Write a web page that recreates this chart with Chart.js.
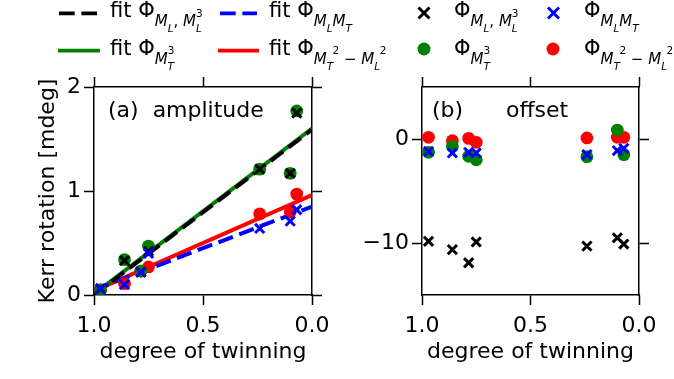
<!DOCTYPE html>
<html>
<head>
<meta charset="utf-8">
<script src="https://cdn.jsdelivr.net/npm/chart.js@4"></script>
<style>
	body { margin: 0; background: #fff; }
	#wrap { position: relative; width: 674px; height: 379px; overflow: hidden; }
	#wrap canvas { position: absolute; top: 0; }
	#legend { position: absolute; left: 0; top: 0; pointer-events: none; }
	#legend text { font-family: 'DejaVu Sans'; font-size: 21px; fill: #000; white-space: pre; }
	#legend .s { font-size: 15px; }
	#legend .ss { font-size: 10.5px; }
	#legend .i { font-style: italic; }
</style>
</head>
<body>
<div id="wrap">
	<canvas id="ampChart" width="340" height="379" style="left:0"></canvas>
	<canvas id="offChart" width="334" height="379" style="left:340px"></canvas>
	<svg id="legend" width="674" height="379">
		<!-- row 1 -->
		<line x1="59" x2="97" y1="13.3" y2="13.3" stroke="#000" stroke-width="3.7" stroke-dasharray="15.7 6.7"/>
		<text x="110" y="17.3">fit Φ<tspan class="s i" dy="8.7">M</tspan><tspan class="ss i" dy="6">L</tspan><tspan class="s" dy="-6">, </tspan><tspan class="s i">M</tspan><tspan class="ss" dy="-9.3">3</tspan><tspan class="ss i" dx="-6.7" dy="15.3">L</tspan></text>
		<line x1="220" x2="257" y1="13.3" y2="13.3" stroke="#00f" stroke-width="3.7" stroke-dasharray="15.7 6.7"/>
		<text x="269" y="17.3">fit Φ<tspan class="s i" dy="8.7">M</tspan><tspan class="ss i" dy="6">L</tspan><tspan class="s i" dy="-6">M</tspan><tspan class="ss i" dy="6">T</tspan></text>
		<path d="M418.5,7.5 L429.5,18.5 M429.5,7.5 L418.5,18.5" stroke="#000" stroke-width="3"/>
		<text x="454" y="17.3">Φ<tspan class="s i" dy="8.7">M</tspan><tspan class="ss i" dy="6">L</tspan><tspan class="s" dy="-6">, </tspan><tspan class="s i">M</tspan><tspan class="ss" dy="-9.3">3</tspan><tspan class="ss i" dx="-6.7" dy="15.3">L</tspan></text>
		<path d="M548,7.5 L559,18.5 M559,7.5 L548,18.5" stroke="#00f" stroke-width="3"/>
		<text x="584" y="17.3">Φ<tspan class="s i" dy="8.7">M</tspan><tspan class="ss i" dy="6">L</tspan><tspan class="s i" dy="-6">M</tspan><tspan class="ss i" dy="6">T</tspan></text>
		<!-- row 2 -->
		<line x1="58" x2="100" y1="50.7" y2="50.7" stroke="#008000" stroke-width="3.7"/>
		<text x="110" y="55">fit Φ<tspan class="s i" dy="8.7">M</tspan><tspan class="ss" dy="-9.3">3</tspan><tspan class="ss i" dx="-6.7" dy="15.3">T</tspan></text>
		<line x1="218" x2="259" y1="50.7" y2="50.7" stroke="#f00" stroke-width="3.7"/>
		<text x="269" y="55">fit Φ<tspan class="s i" dy="8.7">M</tspan><tspan class="ss i" dy="6">T</tspan><tspan class="ss" dx="-0.5" dy="-16">2</tspan><tspan class="s" dy="10"> − </tspan><tspan class="s i">M</tspan><tspan class="ss i" dy="6">L</tspan><tspan class="ss" dx="-0.5" dy="-16">2</tspan></text>
		<circle cx="424" cy="49" r="6.5" fill="#008000"/>
		<text x="454" y="55">Φ<tspan class="s i" dy="8.7">M</tspan><tspan class="ss" dy="-9.3">3</tspan><tspan class="ss i" dx="-6.7" dy="15.3">T</tspan></text>
		<circle cx="553" cy="49" r="6.5" fill="#f00"/>
		<text x="584" y="55">Φ<tspan class="s i" dy="8.7">M</tspan><tspan class="ss i" dy="6">T</tspan><tspan class="ss" dx="-0.5" dy="-16">2</tspan><tspan class="s" dy="10"> − </tspan><tspan class="s i">M</tspan><tspan class="ss i" dy="6">L</tspan><tspan class="ss" dx="-0.5" dy="-16">2</tspan></text>
	</svg>
</div>
<script>
// degree of twinning of the seven samples
const twinning = [0.97, 0.86, 0.785, 0.75, 0.24, 0.10, 0.07];

// (a) amplitude [mdeg]
const ampMLML3 = [0.06, 0.33, 0.22, 0.42, 1.21, 1.17, 1.75];
const ampMT3 = [0.05, 0.34, 0.23, 0.47, 1.21, 1.17, 1.77];
const ampMLMT = [0.06, 0.10, 0.22, 0.40, 0.64, 0.71, 0.82];
const ampMT2ML2 = [0.05, 0.11, 0.23, 0.27, 0.78, 0.80, 0.97];

// linear fits, given at twinning = 1 and 0
const fitX = [1.0, 0.0];
const fitMLML3 = [0.0, 1.59];
const fitMT3 = [0.01, 1.60];
const fitMLMT = [0.05, 0.85];
const fitMT2ML2 = [0.04, 0.96];

// (b) offset [mdeg]
const offMLML3 = [-9.84, -10.64, -11.9, -9.9, -10.3, -9.5, -10.1];
const offMT3 = [-1.28, -0.73, -1.66, -2.0, -1.7, 0.86, -1.5];
const offMLMT = [-1.2, -1.34, -1.28, -1.34, -1.5, -1.12, -0.9];
const offMT2ML2 = [0.16, -0.16, 0.06, -0.32, 0.1, 0.16, 0.16];

// tick labels
const xTicks = [1.0, 0.5, 0.0];
const ampTicks = [0, 1, 2];
const offTicks = [-10, 0];

Chart.defaults.font.family = "'DejaVu Sans'";
Chart.defaults.font.size = 22;
Chart.defaults.color = "#000";

function pts(ys, xs = twinning) {
	return xs.map((x, i) => ({ x: x, y: ys[i] }));
}
function crosses(label, ys, color) {
	return { label, data: pts(ys), pointStyle: "crossRot", pointRadius: 6.5, borderWidth: 3, borderColor: color, backgroundColor: color };
}
function dots(label, ys, color) {
	return { label, data: pts(ys), pointStyle: "circle", pointRadius: 6.4, borderWidth: 0, backgroundColor: color };
}
function fit(label, ys, color, dashed) {
	return { label, data: pts(ys, fitX), showLine: true, pointRadius: 0, borderWidth: 4, borderColor: color, borderDash: dashed ? [15.5, 6.7] : [] };
}

const minus = (v) => (v < 0 ? "\u2212" + Math.abs(v) : String(v));

function makeScales(yMin, yMax, yTicks, size, yTitle) {
	const setTicks = (list) => (axis) => {
		axis.ticks = list.map((v) => ({ value: v }));
	};
	const grid = { drawOnChartArea: false, drawTicks: true, tickLength: 10, tickWidth: 1.5, tickColor: "#000" };
	const border = { display: true, color: "#000", width: 1.5 };
	return {
		x: {
			type: "linear", position: "bottom", reverse: true, min: 0, max: 1,
			afterBuildTicks: setTicks(xTicks),
			ticks: { padding: 8, maxRotation: 0, autoSkip: false, callback: (v) => v.toFixed(1) },
			title: { display: true, text: "degree of twinning", padding: 0 },
			afterFit: (s) => { s.height = size.bottom; },
			grid, border,
		},
		x2: {
			type: "linear", position: "top", reverse: true, min: 0, max: 1,
			afterBuildTicks: setTicks(xTicks),
			ticks: { display: false },
			afterFit: (s) => { s.height = size.top; },
			grid, border,
		},
		y: {
			type: "linear", position: "left", min: yMin, max: yMax,
			afterBuildTicks: setTicks(yTicks),
			ticks: { padding: 3, callback: minus },
			title: { display: !!yTitle, text: yTitle || "", padding: 0 },
			afterFit: (s) => { s.width = size.left; },
			grid, border,
		},
		y2: {
			type: "linear", position: "right", min: yMin, max: yMax,
			afterBuildTicks: setTicks(yTicks),
			ticks: { display: false },
			afterFit: (s) => { s.width = size.right; },
			grid, border,
		},
	};
}

// writes the panel captions inside the plot area
const panelText = {
	id: "panelText",
	afterDraw(chart, args, opts) {
		const ctx = chart.ctx;
		ctx.save();
		ctx.font = "22px 'DejaVu Sans'";
		ctx.fillStyle = "#000";
		ctx.textBaseline = "alphabetic";
		opts.items.forEach((t) => ctx.fillText(t.text, chart.chartArea.left + t.dx, t.y));
		ctx.restore();
	},
};

function drawChart(id, datasets, scales, padding, items) {
	return new Chart(document.getElementById(id), {
		type: "scatter",
		data: { datasets },
		options: {
			responsive: false,
			devicePixelRatio: 1,
			animation: false,
			layout: { padding },
			scales,
			plugins: { legend: { display: false }, tooltip: { enabled: false }, panelText: { items } },
		},
		plugins: [panelText],
	});
}

// first dataset is drawn on top
drawChart(
	"ampChart",
	[
		crosses("Φ M_L M_T", ampMLMT, "#0000ff"),
		crosses("Φ M_L, M_L^3", ampMLML3, "#000000"),
		dots("Φ M_T^3", ampMT3, "#008000"),
		dots("Φ M_T^2 - M_L^2", ampMT2ML2, "#ff0000"),
		fit("fit Φ M_L, M_L^3", fitMLML3, "#000000", true),
		fit("fit Φ M_L M_T", fitMLMT, "#0000ff", true),
		fit("fit Φ M_T^3", fitMT3, "#008000", false),
		fit("fit Φ M_T^2 - M_L^2", fitMT2ML2, "#ff0000", false),
	],
	makeScales(0, 2, ampTicks, { top: 87, bottom: 70, left: 59, right: 28 }, "Kerr rotation [mdeg]"),
	{ left: 35, bottom: 14, top: 0, right: 0 },
	[{ text: "(a)  amplitude", dx: 14, y: 117.3 }]
);

drawChart(
	"offChart",
	[
		crosses("Φ M_L M_T", offMLMT, "#0000ff"),
		crosses("Φ M_L, M_L^3", offMLML3, "#000000"),
		dots("Φ M_T^3", offMT3, "#008000"),
		dots("Φ M_T^2 - M_L^2", offMT2ML2, "#ff0000"),
	],
	makeScales(-15, 5, offTicks, { top: 87, bottom: 70, left: 82, right: 35 }, null),
	{ left: 0, bottom: 14, top: 0, right: 0 },
	[{ text: "(b)", dx: 10, y: 117.3 }, { text: "offset", dx: 84, y: 117.3 }]
);
</script>
</body>
</html>
